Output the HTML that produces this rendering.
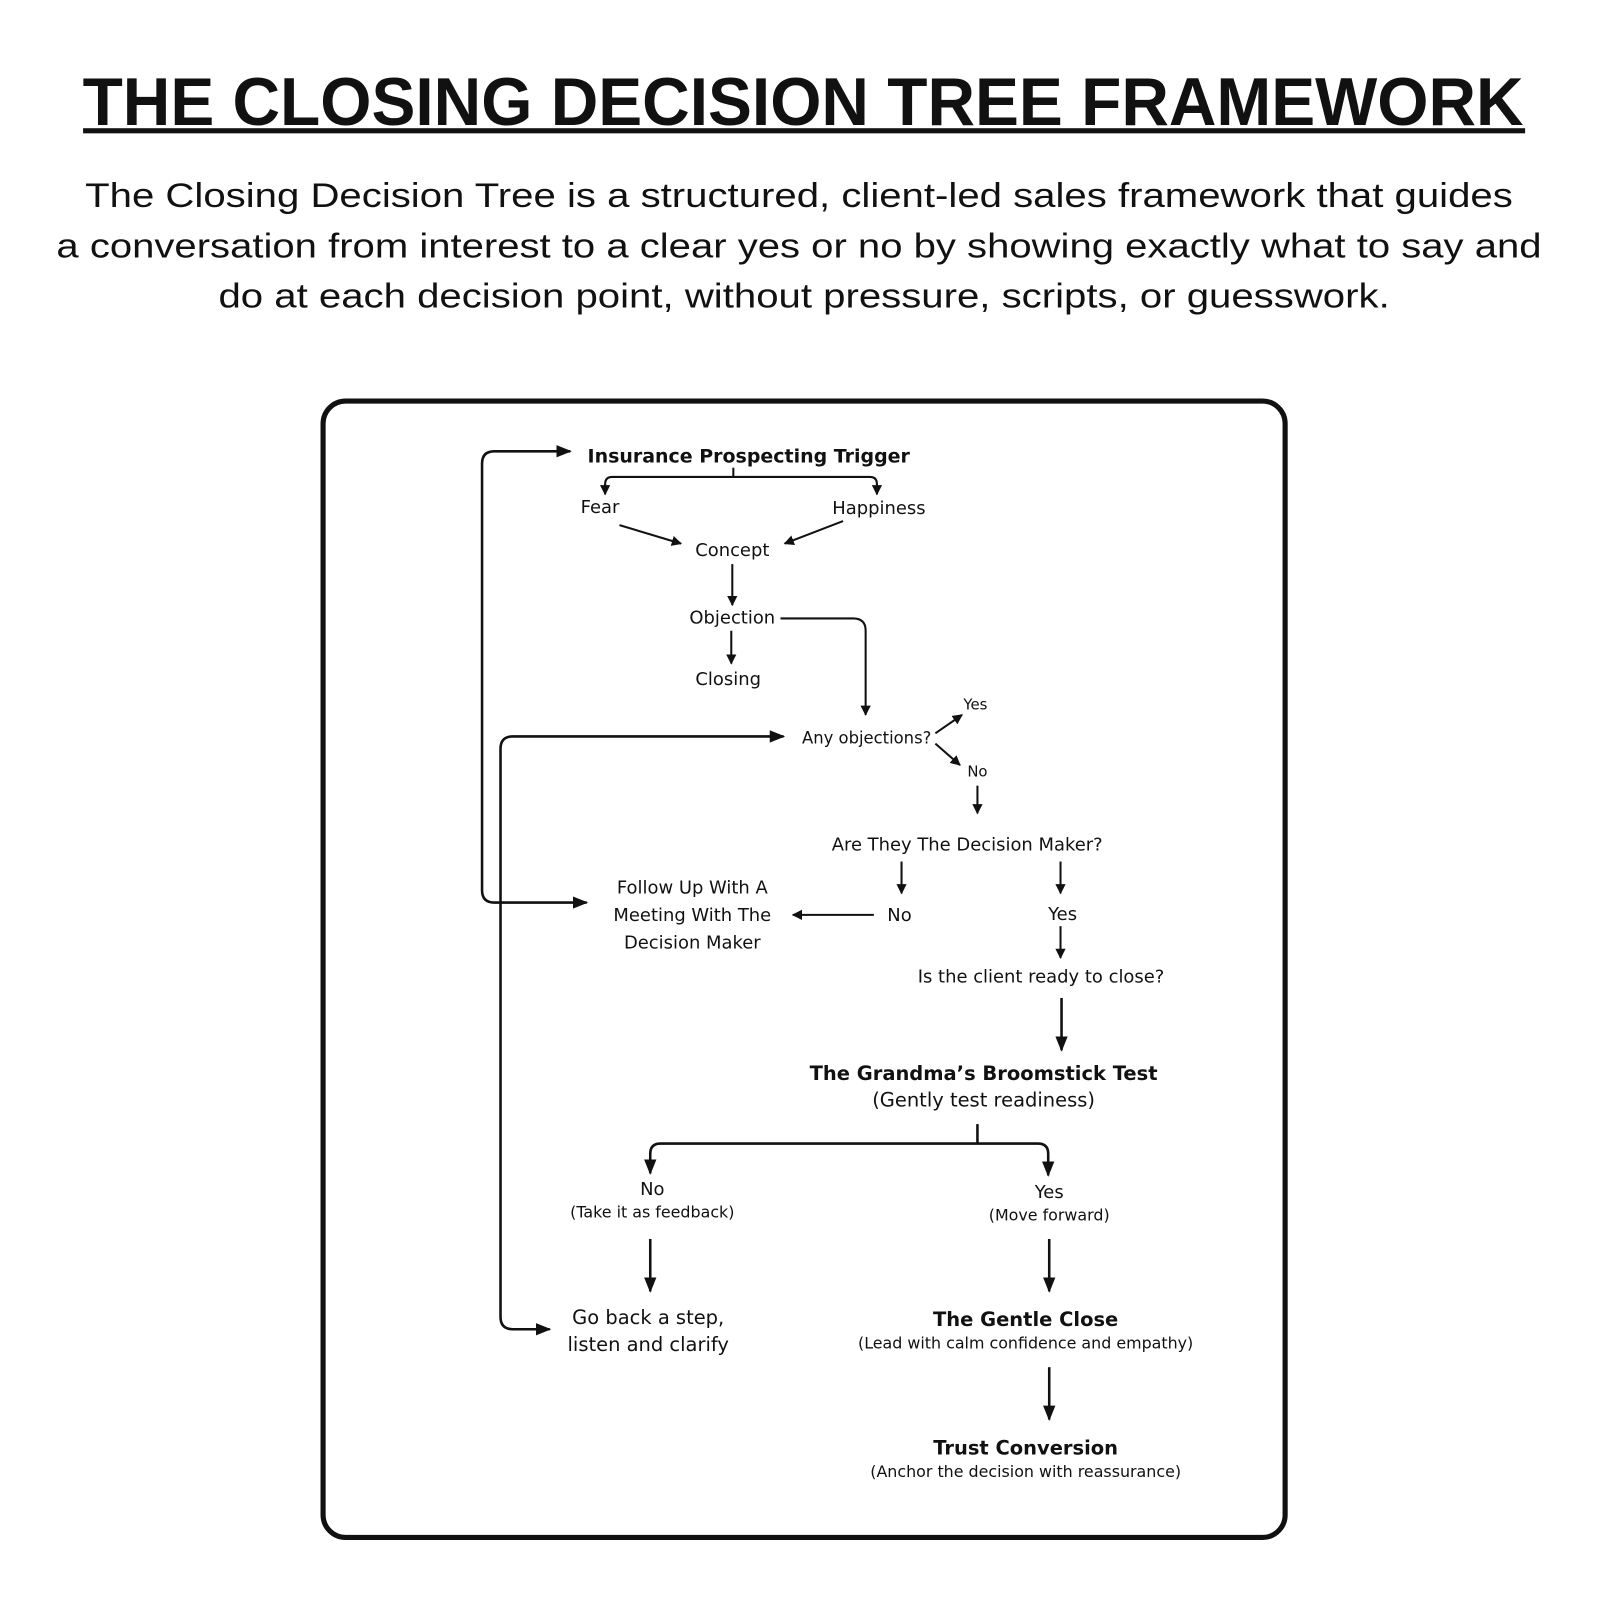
<!DOCTYPE html>
<html><head><meta charset="utf-8"><style>
html,body{margin:0;padding:0;background:#fff}
svg{display:block}
.t{font-family:"Liberation Sans",sans-serif;fill:#111}
.d{font-family:"DejaVu Sans","Liberation Sans",sans-serif;fill:#111}
</style></head><body>
<svg width="1600" height="1600" viewBox="0 0 1560 1560" xmlns="http://www.w3.org/2000/svg">
<defs>
<marker id="a" viewBox="0 0 10 10" refX="9" refY="5" markerWidth="5" markerHeight="5" orient="auto-start-reverse"><path d="M0,0 L10,5 L0,10 z" fill="#111"/></marker>
<marker id="s" viewBox="0 0 10 10" refX="9" refY="5" markerWidth="6" markerHeight="6" orient="auto-start-reverse"><path d="M0,1 L10,5 L0,9 z" fill="#111"/></marker>
</defs>
<text class="t" x="783" y="122" text-anchor="middle" font-size="66" font-weight="bold" textLength="1405" lengthAdjust="spacingAndGlyphs">THE CLOSING DECISION TREE FRAMEWORK</text>
<rect x="81" y="125" width="1406" height="5" fill="#111"/>
<text class="t" x="779" y="202" text-anchor="middle" font-size="33" textLength="1392" lengthAdjust="spacingAndGlyphs">The Closing Decision Tree is a structured, client-led sales framework that guides</text>
<text class="t" x="779" y="251" text-anchor="middle" font-size="33" textLength="1448" lengthAdjust="spacingAndGlyphs">a conversation from interest to a clear yes or no by showing exactly what to say and</text>
<text class="t" x="784" y="300" text-anchor="middle" font-size="33" textLength="1142" lengthAdjust="spacingAndGlyphs">do at each decision point, without pressure, scripts, or guesswork.</text>

<rect x="315" y="391" width="938" height="1108" rx="22" fill="none" stroke="#111" stroke-width="5"/>

<g fill="none" stroke="#111" stroke-width="2">
<path d="M556,440 H482 Q470,440 470,452 V868 Q470,880 482,880 H572" stroke-width="2.5" marker-start="url(#s)" marker-end="url(#s)"/>
<path d="M764,718 H500 Q488,718 488,730 V1284 Q488,1296 500,1296 H536" stroke-width="2.5" marker-start="url(#s)" marker-end="url(#s)"/>
<path d="M715,456 V465"/>
<path d="M590,480 V472 Q590,465 597,465 H848 Q855,465 855,472 V482" marker-end="url(#a)"/>
<path d="M590,472 V482" marker-end="url(#a)"/>
<path d="M604,512 L664,530" marker-end="url(#a)"/>
<path d="M822,508 L765,530" marker-end="url(#a)"/>
<path d="M714,550 V590" marker-end="url(#a)"/>
<path d="M713,615 V647" marker-end="url(#a)"/>
<path d="M761,603 H832 Q844,603 844,615 V697" marker-end="url(#a)"/>
<path d="M912,715 L938,697" marker-end="url(#a)"/>
<path d="M912,725 L936,746" marker-end="url(#a)"/>
<path d="M953,766 V793" marker-end="url(#a)"/>
<path d="M879,840 V871" marker-end="url(#a)"/>
<path d="M1034,840 V871" marker-end="url(#a)"/>
<path d="M852,892 H773" marker-end="url(#a)"/>
<path d="M1034,903 V934" marker-end="url(#a)"/>
<path d="M1035,973 V1024" stroke-width="2.5" marker-end="url(#s)"/>
<path d="M953,1096 V1114" stroke-width="2.5"/>
<path d="M634,1142 V1125 Q634,1115 644,1115 H1012 Q1022,1115 1022,1125 V1146" stroke-width="2.5" marker-end="url(#s)"/>
<path d="M634,1130 V1144" stroke-width="2.5" marker-end="url(#s)"/>
<path d="M634,1208 V1259" stroke-width="2.5" marker-end="url(#s)"/>
<path d="M1023,1208 V1259" stroke-width="2.5" marker-end="url(#s)"/>
<path d="M1023,1333 V1384" stroke-width="2.5" marker-end="url(#s)"/>
</g>

<g class="d" font-size="17.5">
<text x="730" y="451" text-anchor="middle" font-weight="bold" font-size="18.5">Insurance Prospecting Trigger</text>
<text x="585" y="500" text-anchor="middle">Fear</text>
<text x="857" y="501" text-anchor="middle">Happiness</text>
<text x="714" y="542" text-anchor="middle">Concept</text>
<text x="714" y="608" text-anchor="middle">Objection</text>
<text x="710" y="668" text-anchor="middle">Closing</text>
<text x="951" y="692" text-anchor="middle" font-size="14.5">Yes</text>
<text x="845" y="725" text-anchor="middle" font-size="16">Any objections?</text>
<text x="953" y="757" text-anchor="middle" font-size="14.5">No</text>
<text x="943" y="829" text-anchor="middle">Are They The Decision Maker?</text>
<text x="877" y="898" text-anchor="middle">No</text>
<text x="1036" y="897" text-anchor="middle">Yes</text>
<text x="675" y="871" text-anchor="middle">Follow Up With A</text>
<text x="675" y="898" text-anchor="middle">Meeting With The</text>
<text x="675" y="925" text-anchor="middle">Decision Maker</text>
<text x="1015" y="958" text-anchor="middle">Is the client ready to close?</text>
<text x="959" y="1053" text-anchor="middle" font-weight="bold" font-size="19">The Grandma’s Broomstick Test</text>
<text x="959" y="1079" text-anchor="middle" font-size="19">(Gently test readiness)</text>
<text x="636" y="1165" text-anchor="middle">No</text>
<text x="636" y="1187" text-anchor="middle" font-size="15.5">(Take it as feedback)</text>
<text x="1023" y="1168" text-anchor="middle">Yes</text>
<text x="1023" y="1190" text-anchor="middle" font-size="15.5">(Move forward)</text>
<text x="632" y="1291" text-anchor="middle" font-size="19">Go back a step,</text>
<text x="632" y="1317" text-anchor="middle" font-size="19">listen and clarify</text>
<text x="1000" y="1293" text-anchor="middle" font-weight="bold" font-size="19">The Gentle Close</text>
<text x="1000" y="1315" text-anchor="middle" font-size="15.5">(Lead with calm confidence and empathy)</text>
<text x="1000" y="1418" text-anchor="middle" font-weight="bold" font-size="19">Trust Conversion</text>
<text x="1000" y="1440" text-anchor="middle" font-size="15.5">(Anchor the decision with reassurance)</text>
</g>
</svg>
</body></html>
